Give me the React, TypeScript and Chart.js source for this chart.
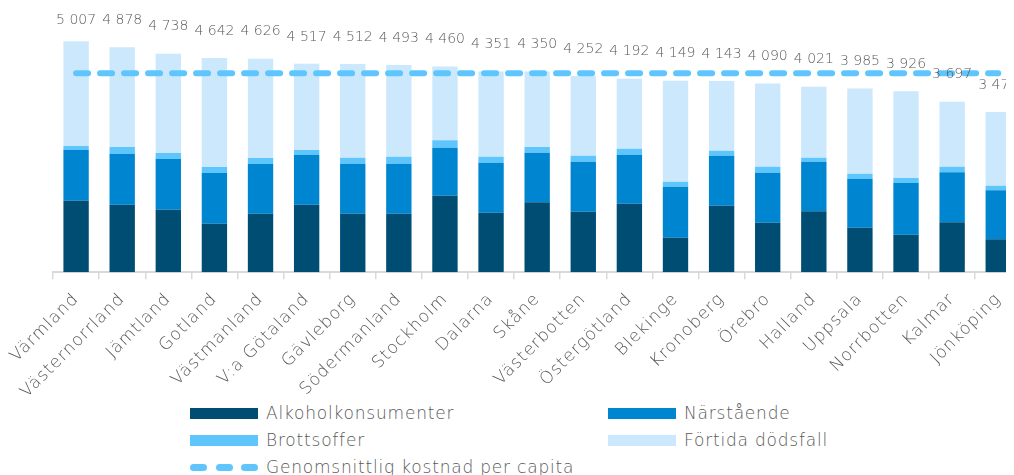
import React, { useEffect, useRef } from "react";
import { Chart, registerables } from "chart.js";

Chart.register(...registerables);

const categories = [
  "Värmland", "Västernorrland", "Jämtland", "Gotland", "Västmanland", "V:a Götaland",
  "Gävleborg", "Södermanland", "Stockholm", "Dalarna", "Skåne", "Västerbotten",
  "Östergötland", "Blekinge", "Kronoberg", "Örebro", "Halland", "Uppsala",
  "Norrbotten", "Kalmar", "Jönköping",
];
const alkohol = [1552, 1465, 1357, 1053, 1270, 1465, 1270, 1270, 1660, 1292, 1517, 1314, 1488, 751, 1444, 1075, 1322, 967, 815, 1084, 715];
const narstaende = [1099, 1099, 1099, 1099, 1077, 1077, 1084, 1084, 1041, 1084, 1076, 1084, 1062, 1105, 1084, 1084, 1076, 1062, 1120, 1083, 1062];
const brottsoffer = [86, 152, 130, 130, 130, 109, 130, 152, 160, 130, 123, 130, 130, 108, 108, 130, 86, 108, 109, 122, 100];
const fortida = [2270, 2162, 2152, 2360, 2149, 1866, 2028, 1987, 1599, 1845, 1634, 1724, 1512, 2185, 1507, 1801, 1537, 1848, 1882, 1408, 1595];
const average = [4313, 4313, 4313, 4313, 4313, 4313, 4313, 4313, 4313, 4313, 4313, 4313, 4313, 4313, 4313, 4313, 4313, 4313, 4313, 4313, 4313];

const seriesNames = ["Alkoholkonsumenter", "Närstående", "Brottsoffer", "Förtida dödsfall", "Genomsnittlig kostnad per capita"];
const colors = ["#004D74", "#0086D1", "#5EC6FD", "#CCE8FC"];
const lineColor = "#5EC6FD";
const textColor = "#595959";
const fontFamily = "'DejaVu Sans', sans-serif";

const fmt = (n: number) => String(n).replace(/\B(?=(\d{3})+(?!\d))/g, " ");

const spacingPlugin = {
  id: "spacing",
  beforeDraw(chart: any) {
    (chart.ctx as any).letterSpacing = "1px";
  },
  afterDraw(chart: any) {
    (chart.ctx as any).letterSpacing = "0px";
  },
};

const totalsPlugin = {
  id: "totals",
  afterDatasetsDraw(chart: any) {
    const { ctx, chartArea } = chart;
    const xs = chart.scales.x;
    const ys = chart.scales.y;
    ctx.save();
    (ctx as any).letterSpacing = "0px";
    ctx.font = `300 14px ${fontFamily}`;
    ctx.fillStyle = textColor;
    ctx.textAlign = "center";
    ctx.textBaseline = "middle";
    categories.forEach((_, i) => {
      const total = alkohol[i] + narstaende[i] + brottsoffer[i] + fortida[i];
      const x = xs.getPixelForValue(i);
      const y = Math.max(ys.getPixelForValue(total) - 27, chartArea.top + 2);
      ctx.fillText(fmt(total), x, y);
    });
    ctx.restore();
  },
};

export default function App() {
  const ref = useRef<HTMLCanvasElement>(null);

  useEffect(() => {
    if (!ref.current) return;
    const barSets = [alkohol, narstaende, brottsoffer, fortida].map((d, k) => ({
      type: "bar" as const,
      label: seriesNames[k],
      data: d,
      backgroundColor: colors[k],
      stack: "costs",
      categoryPercentage: 1,
      barPercentage: 0.55,
      order: 1,
    }));
    const chart = new Chart(ref.current, {
      type: "bar",
      data: {
        labels: categories,
        datasets: [
          ...barSets,
          {
            type: "line" as const,
            label: seriesNames[4],
            data: average,
            borderColor: lineColor,
            borderWidth: 6,
            borderDash: [12, 12],
            borderCapStyle: "round",
            pointRadius: 0,
            fill: false,
            stack: "avg",
            order: 0,
          } as any,
        ],
      },
      options: {
        responsive: false,
        animation: false,
        layout: { padding: { left: 43.7, right: 16.7, top: 10.5, bottom: 0 } },
        plugins: { legend: { display: false }, tooltip: { enabled: false } },
        scales: {
          x: {
            stacked: true,
            offset: true,
            grid: {
              offset: true,
              drawOnChartArea: false,
              drawTicks: true,
              tickLength: 7,
              color: "#d9d9d9",
              lineWidth: 1.5,
            },
            border: { display: true, color: "#d9d9d9", width: 2 },
            ticks: {
              minRotation: 45,
              maxRotation: 45,
              autoSkip: false,
              padding: 10,
              color: textColor,
              font: { family: fontFamily, size: 17, weight: "300" as any },
            },
            afterFit: (s: any) => {
              s.height = 125.7;
            },
          },
          y: { stacked: true, display: false, min: 0, max: 5500 },
        },
      },
      plugins: [spacingPlugin, totalsPlugin],
    });
    return () => chart.destroy();
  }, []);

  const legendText: React.CSSProperties = {
    font: `300 17px ${fontFamily}`,
    letterSpacing: "0.8px",
    color: textColor,
    whiteSpace: "nowrap",
  };
  const item = (left: number, center: number, swatch: React.ReactNode, label: string) => (
    <div
      key={label}
      style={{ position: "absolute", left, top: center - 11, height: 22, display: "flex", alignItems: "center" }}
    >
      {swatch}
      <span style={{ ...legendText, marginLeft: 8 }}>{label}</span>
    </div>
  );
  const box = (c: string) => <div style={{ width: 68, height: 11, background: c }} />;
  const dash = (
    <div style={{ width: 68, height: 7, display: "flex", justifyContent: "space-between", alignItems: "center" }}>
      {[0, 1, 2].map((k) => (
        <div key={k} style={{ width: 17, height: 7, borderRadius: 4, background: lineColor }} />
      ))}
    </div>
  );

  return (
    <div style={{ position: "relative", width: 1006, height: 467, overflow: "hidden" }}>
      <canvas ref={ref} width={1030} height={390} style={{ display: "block" }} />
      {item(182, 405, box(colors[0]), seriesNames[0])}
      {item(600, 405, box(colors[1]), seriesNames[1])}
      {item(182, 432, box(colors[2]), seriesNames[2])}
      {item(600, 432, box(colors[3]), seriesNames[3])}
      {item(182, 459, dash, seriesNames[4])}
    </div>
  );
}
